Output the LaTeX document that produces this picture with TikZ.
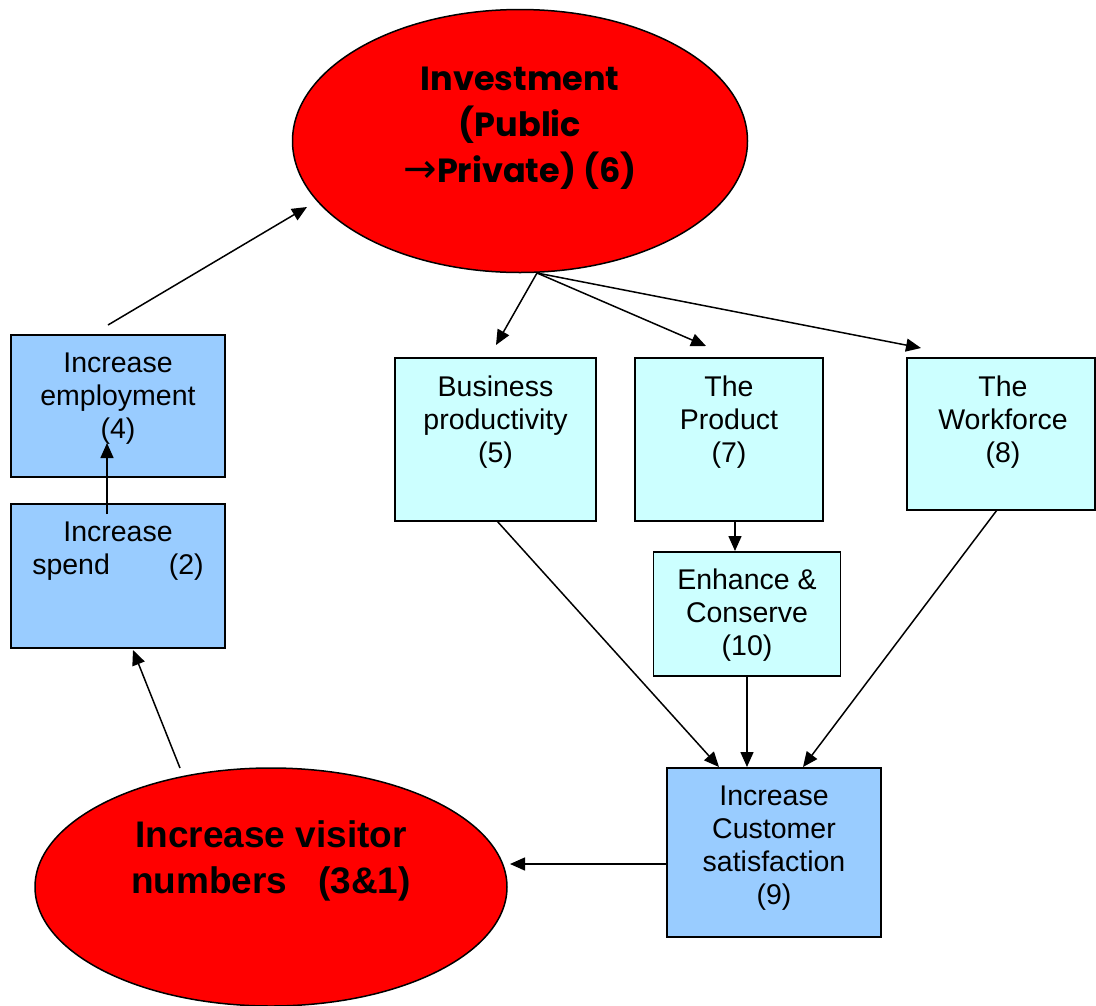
\documentclass[tikz,border=0pt]{standalone}
\usepackage{fontspec}
\setmainfont{Liberation Sans}
\newfontfamily\gothic{Poppins}
\newfontfamily\dejavu{DejaVu Sans}
\usetikzlibrary{shapes.geometric,arrows.meta}
\definecolor{boxblue}{HTML}{99CCFF}
\definecolor{boxcyan}{HTML}{CCFFFF}
\definecolor{ellred}{HTML}{FF0000}
\tikzset{
  bluebox/.style={draw=black,line width=1.5pt,fill=boxblue,rectangle,inner sep=0pt},
  cyanbox/.style={draw=black,line width=1.5pt,fill=boxcyan,rectangle,inner sep=0pt},
  ell/.style={draw=black,line width=1.5pt,fill=ellred,ellipse,inner sep=0pt},
  boxtxt/.style={inner sep=0pt,anchor=north,align=center,font=\fontsize{28.5}{33}\selectfont},
  conn/.style={line width=1.5pt,-{Triangle[length=15pt,width=13pt]}},
}
\begin{document}
\begin{tikzpicture}[x=1pt,y=-1pt]
\useasboundingbox (0,0) rectangle (1096,1005);
% ellipses
\node[ell,minimum width=455pt,minimum height=263pt] (inv) at (520,141) {};
\node[inner sep=0pt,anchor=north,align=center,font=\gothic\bfseries\fontsize{33.5}{46}\selectfont] (invT) at (520,67)
  {Investment\\(Public\\{\dejavu\mdseries\fontsize{40}{46}\selectfont →}Private) (6)};
\node[ell,minimum width=472pt,minimum height=238pt] (vis) at (271,887) {};
\node[inner sep=0pt,anchor=north,align=center,font=\bfseries\fontsize{37}{46}\selectfont] (visT) at (271,820)
  {Increase visitor\\numbers\hspace{31pt}(3\&1)};
% left boxes
\node[bluebox,minimum width=214pt,minimum height=142pt] (emp) at (118,406) {};
\node[boxtxt] (empT) at (118,353) {Increase\\employment\\(4)};
\node[bluebox,minimum width=214pt,minimum height=144pt] (spend) at (118,576) {};
\node[boxtxt] (spendT) at (118,522) {Increase\\spend\hspace{59pt}(2)};
% top row boxes
\node[cyanbox,minimum width=201pt,minimum height=163pt] (bus) at (495.5,439.5) {};
\node[boxtxt] (busT) at (495.5,376) {Business\\productivity\\(5)};
\node[cyanbox,minimum width=188pt,minimum height=163pt] (prod) at (729,439.5) {};
\node[boxtxt] (prodT) at (729,376) {The\\Product\\(7)};
\node[cyanbox,minimum width=188pt,minimum height=152pt] (work) at (1001,434) {};
\node[boxtxt] (workT) at (1003,376) {The\\Workforce\\(8)};
\node[cyanbox,minimum width=187pt,minimum height=124pt] (enh) at (747,614) {};
\node[boxtxt] (enhT) at (747,569) {Enhance \&\\Conserve\\(10)};
\node[bluebox,minimum width=214pt,minimum height=169pt] (cust) at (774,852.5) {};
\node[boxtxt] (custT) at (774,786) {Increase\\Customer\\satisfaction\\(9)};
% connector coordinates
\coordinate (a1s) at (108,325);
\coordinate (a1e) at (307,207);
\coordinate (a2s) at (107,514);
\coordinate (a2e) at (107,443);
\coordinate (a3s) at (180,768);
\coordinate (a3e) at (133,650);
\coordinate (a4s) at (667,864);
\coordinate (a4e) at (510,864);
\coordinate (invB) at (537,273);
\coordinate (t5) at (496,345);
\coordinate (t7) at (706,346);
\coordinate (t8) at (921,348);
\coordinate (a8s) at (735,521);
\coordinate (a8e) at (735,551);
\coordinate (a9s) at (497,521);
\coordinate (a9e) at (719,767);
\coordinate (a10s) at (747,676);
\coordinate (a10e) at (747,767);
\coordinate (a11s) at (997,510);
\coordinate (a11e) at (803,767);
% connectors
\draw[conn] (a1s) -- (a1e);
\draw[conn] (a2s) -- (a2e);
\draw[conn] (a3s) -- (a3e);
\draw[conn] (a4s) -- (a4e);
\draw[conn] (invB) -- (t5);
\draw[conn] (invB) -- (t7);
\draw[conn] (invB) -- (t8);
\draw[conn] (a8s) -- (a8e);
\draw[conn] (a9s) -- (a9e);
\draw[conn] (a10s) -- (a10e);
\draw[conn] (a11s) -- (a11e);
\end{tikzpicture}
\end{document}
